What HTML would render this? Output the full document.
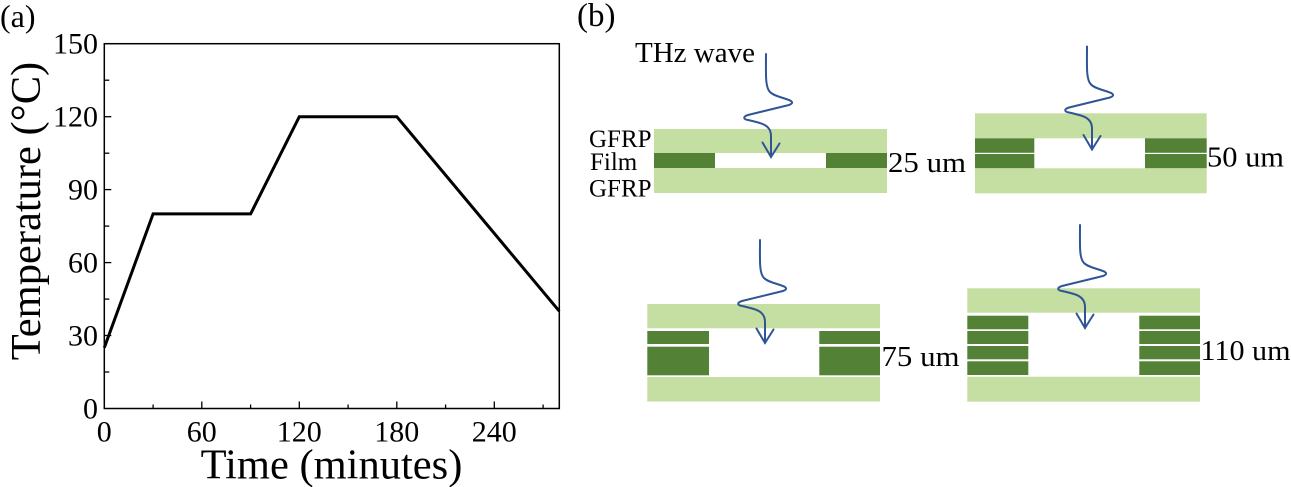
<!DOCTYPE html>
<html>
<head>
<meta charset="utf-8">
<style>
  html, body { margin: 0; padding: 0; background: #ffffff; }
  svg { display: block; }
  text { font-family: "Liberation Serif", "DejaVu Serif", serif; fill: #000; }
</style>
</head>
<body>
<svg width="1291" height="487" viewBox="0 0 1291 487" xmlns="http://www.w3.org/2000/svg">
  <rect x="0" y="0" width="1291" height="487" fill="#ffffff"/>

  <!-- Panel (a) -->
  <text x="0" y="27" font-size="32">(a)</text>

  <!-- axes box -->
  <rect x="104.3" y="43.7" width="455" height="364.8" fill="none" stroke="#000" stroke-width="1.5"/>

  <!-- x ticks -->
  <g stroke="#000" stroke-width="1.3">
    <line x1="201.8" y1="408.5" x2="201.8" y2="401.5"/>
    <line x1="299.3" y1="408.5" x2="299.3" y2="401.5"/>
    <line x1="396.8" y1="408.5" x2="396.8" y2="401.5"/>
    <line x1="494.3" y1="408.5" x2="494.3" y2="401.5"/>
    <line x1="153.1" y1="408.5" x2="153.1" y2="404.5"/>
    <line x1="250.6" y1="408.5" x2="250.6" y2="404.5"/>
    <line x1="348.1" y1="408.5" x2="348.1" y2="404.5"/>
    <line x1="445.6" y1="408.5" x2="445.6" y2="404.5"/>
    <line x1="543.1" y1="408.5" x2="543.1" y2="404.5"/>
    <!-- y ticks -->
    <line x1="104.3" y1="335.5" x2="111.3" y2="335.5"/>
    <line x1="104.3" y1="262.6" x2="111.3" y2="262.6"/>
    <line x1="104.3" y1="189.6" x2="111.3" y2="189.6"/>
    <line x1="104.3" y1="116.7" x2="111.3" y2="116.7"/>
    <line x1="104.3" y1="372.0" x2="109.3" y2="372.0"/>
    <line x1="104.3" y1="299.1" x2="109.3" y2="299.1"/>
    <line x1="104.3" y1="226.1" x2="109.3" y2="226.1"/>
    <line x1="104.3" y1="153.2" x2="109.3" y2="153.2"/>
    <line x1="104.3" y1="80.2" x2="109.3" y2="80.2"/>
  </g>

  <!-- y tick labels -->
  <g font-size="30" text-anchor="end">
    <text x="98" y="53.5">150</text>
    <text x="98" y="126.5">120</text>
    <text x="98" y="199.5">90</text>
    <text x="98" y="272.5">60</text>
    <text x="98" y="345.5">30</text>
    <text x="98" y="418.5">0</text>
  </g>
  <!-- x tick labels -->
  <g font-size="30" text-anchor="middle">
    <text x="104.3" y="441.5">0</text>
    <text x="201.8" y="441.5">60</text>
    <text x="299.3" y="441.5">120</text>
    <text x="396.8" y="441.5">180</text>
    <text x="494.3" y="441.5">240</text>
  </g>

  <!-- axis titles -->
  <text x="331.5" y="478.5" font-size="42.5" text-anchor="middle">Time (minutes)</text>
  <text transform="translate(40,211) rotate(-90)" font-size="42.5" text-anchor="middle">Temperature (°C)</text>

  <!-- data line -->
  <polyline points="104.3,347.7 153.1,213.9 250.6,213.9 299.3,116.7 396.8,116.7 559.3,311.2"
            fill="none" stroke="#000" stroke-width="3" stroke-linejoin="miter"/>

  <!-- Panel (b) -->
  <text x="577" y="26" font-size="33">(b)</text>
  <text x="635" y="62" font-size="29">THz wave</text>

  <g font-size="25">
    <text x="589" y="147">GFRP</text>
    <text x="590" y="170">Film</text>
    <text x="589" y="196.5">GFRP</text>
  </g>

  <!-- Diagram 1: 25 um -->
  <rect x="654" y="129" width="233" height="24" fill="#c5dea1"/>
  <rect x="654" y="153" width="61" height="15" fill="#538135"/>
  <rect x="826" y="153" width="61" height="15" fill="#538135"/>
  <rect x="654" y="168" width="233" height="25" fill="#c5dea1"/>
  <text x="888" y="172" font-size="29" textLength="78" lengthAdjust="spacingAndGlyphs">25 um</text>

  <!-- Diagram 2: 50 um -->
  <rect x="975" y="113.3" width="231.7" height="25" fill="#c5dea1"/>
  <rect x="975" y="138.3" width="59.3" height="14.5" fill="#538135"/>
  <rect x="975" y="154" width="59.3" height="14.3" fill="#538135"/>
  <rect x="1145" y="138.3" width="61.7" height="14.5" fill="#538135"/>
  <rect x="1145" y="154" width="61.7" height="14.3" fill="#538135"/>
  <rect x="975" y="168.3" width="231.7" height="25" fill="#c5dea1"/>
  <text x="1207" y="166.7" font-size="29" textLength="77" lengthAdjust="spacingAndGlyphs">50 um</text>

  <!-- Diagram 3: 75 um -->
  <rect x="647.3" y="304" width="232.7" height="24.3" fill="#c5dea1"/>
  <rect x="647.3" y="331" width="61.7" height="13" fill="#538135"/>
  <rect x="647.3" y="346.7" width="61.7" height="28.6" fill="#538135"/>
  <rect x="819.3" y="331" width="60.7" height="13" fill="#538135"/>
  <rect x="819.3" y="346.7" width="60.7" height="28.6" fill="#538135"/>
  <rect x="647.3" y="377" width="232.7" height="24.5" fill="#c5dea1"/>
  <text x="881.5" y="366" font-size="29" textLength="78" lengthAdjust="spacingAndGlyphs">75 um</text>

  <!-- Diagram 4: 110 um -->
  <rect x="967.3" y="288.3" width="232.7" height="24.4" fill="#c5dea1"/>
  <g fill="#538135">
    <rect x="967.3" y="315.7" width="61" height="13.6"/>
    <rect x="967.3" y="331" width="61" height="13"/>
    <rect x="967.3" y="346" width="61" height="13.3"/>
    <rect x="967.3" y="361.3" width="61" height="13.7"/>
    <rect x="1139.3" y="315.7" width="60.7" height="13.6"/>
    <rect x="1139.3" y="331" width="60.7" height="13"/>
    <rect x="1139.3" y="346" width="60.7" height="13.3"/>
    <rect x="1139.3" y="361.3" width="60.7" height="13.7"/>
  </g>
  <rect x="967.3" y="376.7" width="232.7" height="25" fill="#c5dea1"/>
  <text x="1200.5" y="360" font-size="29" textLength="90" lengthAdjust="spacingAndGlyphs">110 um</text>

  <!-- THz waves -->
  <defs>
    <g id="wave">
      <path d="M0,0 C0,20 -1,33 4,38 C9,43 20,44 25,47 C27,48.5 26,50 23,51 L-18,61 C-23,62.5 -23,65 -18,66 C-4,69 5,71 5,82 L5,103"
            fill="none" stroke="#2f5597" stroke-width="2" stroke-linejoin="round" stroke-linecap="round"/>
      <path d="M-3.5,88.5 L5,103 L13.5,89.5" fill="none" stroke="#2f5597" stroke-width="2" stroke-linejoin="miter" stroke-linecap="round"/>
    </g>
  </defs>
  <use href="#wave" transform="translate(766,54)"/>
  <use href="#wave" transform="translate(1087,46.5)"/>
  <use href="#wave" transform="translate(760,240)"/>
  <use href="#wave" transform="translate(1080,225)"/>
</svg>
</body>
</html>
